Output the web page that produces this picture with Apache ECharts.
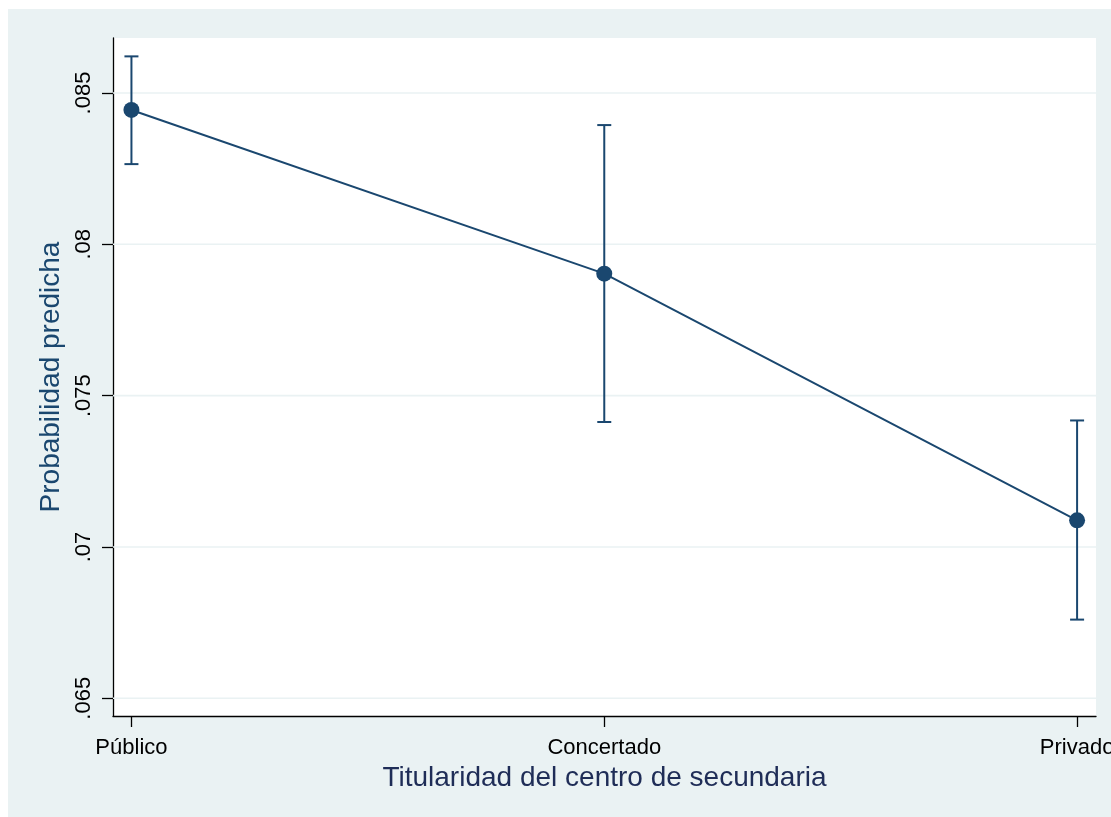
<!DOCTYPE html>
<html>
<head>
<meta charset="utf-8">
<script src="https://cdn.jsdelivr.net/npm/echarts@6/dist/echarts.min.js"></script>
<style>
html,body{margin:0;padding:0;background:#ffffff;overflow:hidden;}
#chart{width:1111px;height:817px;}
</style>
</head>
<body>
<div id="chart"></div>
<script>
// ---- data ----
var categories = ['Público', 'Concertado', 'Privado'];
var predicted = [0.08444, 0.07903, 0.07088];
var ciLower = [0.08265, 0.07413, 0.06760];
var ciUpper = [0.08621, 0.08394, 0.07418];
var yTicks = [0.065, 0.07, 0.075, 0.08, 0.085];
var yTickLabels = ['.065', '.07', '.075', '.08', '.085'];
var xTitle = 'Titularidad del centro de secundaria';
var yTitle = 'Probabilidad predicha';

var lineColor = '#1a476f';
var catIdx = categories.map(function (c, i) { return i; });
var pointData = predicted.map(function (v, i) { return [i, v]; });
var ciData = predicted.map(function (v, i) { return [i, ciLower[i], ciUpper[i]]; });
var gridData = yTicks.map(function (t) { return [0, t]; });

var chart = echarts.init(document.getElementById('chart'));
var option = {
  backgroundColor: '#ffffff',
  animation: false,
  graphic: [{
    type: 'rect', z: -10, silent: true,
    shape: {x: 8, y: 9, width: 1103, height: 808},
    style: {fill: '#eaf2f3'}
  }],
  grid: {
    left: 113, right: 15, top: 38, bottom: 101,
    outerBoundsMode: 'none', containLabel: false,
    show: true, backgroundColor: '#ffffff', borderWidth: 0
  },
  xAxis: {
    type: 'value', min: -0.039, max: 2.04,
    axisLine: {show: true, onZero: false, lineStyle: {color: '#000', width: 1.3}},
    axisTick: {show: true, customValues: catIdx, length: 11, lineStyle: {color: '#000', width: 1.3}},
    axisLabel: {
      customValues: catIdx, margin: 21, color: '#000', fontSize: 22,
      fontFamily: 'Liberation Sans, Arial, sans-serif',
      formatter: function (v) { return categories[Math.round(v)]; }
    },
    splitLine: {show: false},
    name: xTitle, nameLocation: 'middle', nameGap: 30,
    nameTextStyle: {fontSize: 28, color: '#1f2d57', fontFamily: 'Liberation Sans, Arial, sans-serif'}
  },
  yAxis: {
    type: 'value', min: 0.064415, max: 0.086817,
    axisLine: {show: true, onZero: false, lineStyle: {color: '#000', width: 1.3}},
    axisTick: {show: true, customValues: yTicks, length: 11, lineStyle: {color: '#000', width: 1.3}},
    axisLabel: {
      customValues: yTicks, rotate: 90, margin: 18, color: '#000', fontSize: 22,
      fontFamily: 'Liberation Sans, Arial, sans-serif',
      formatter: function (v) {
        for (var i = 0; i < yTicks.length; i++) {
          if (Math.abs(yTicks[i] - v) < 1e-7) return yTickLabels[i];
        }
        return '';
      }
    },
    splitLine: {show: false},
    name: yTitle, nameLocation: 'middle', nameGap: 32,
    nameTextStyle: {fontSize: 28, color: lineColor, fontFamily: 'Liberation Sans, Arial, sans-serif'}
  },
  series: [
    {
      type: 'custom', z: 1, silent: true, data: gridData,
      renderItem: function (params, api) {
        var cs = params.coordSys;
        var p = api.coord([0, api.value(1)]);
        return {
          type: 'line',
          shape: {x1: cs.x, y1: p[1], x2: cs.x + cs.width, y2: p[1]},
          style: {stroke: '#eaf2f3', lineWidth: 1.6}
        };
      }
    },
    {
      type: 'custom', z: 3, data: ciData,
      renderItem: function (params, api) {
        var x = api.value(0);
        var lo = api.coord([x, api.value(1)]);
        var hi = api.coord([x, api.value(2)]);
        var hw = 7;
        var st = {stroke: lineColor, lineWidth: 2};
        return {
          type: 'group',
          children: [
            {type: 'line', shape: {x1: lo[0], y1: lo[1], x2: hi[0], y2: hi[1]}, style: st},
            {type: 'line', shape: {x1: lo[0] - hw, y1: lo[1], x2: lo[0] + hw, y2: lo[1]}, style: st},
            {type: 'line', shape: {x1: hi[0] - hw, y1: hi[1], x2: hi[0] + hw, y2: hi[1]}, style: st}
          ]
        };
      }
    },
    {
      type: 'line', data: pointData, z: 4,
      symbol: 'circle', symbolSize: 16, showSymbol: true,
      lineStyle: {color: lineColor, width: 2},
      itemStyle: {color: lineColor}
    }
  ]
};
chart.setOption(option);
</script>
</body>
</html>
